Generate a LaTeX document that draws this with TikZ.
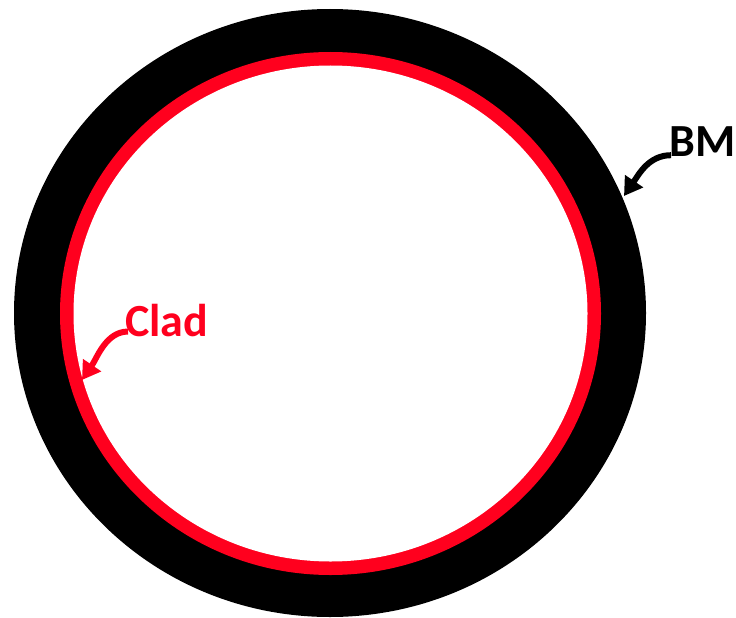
\documentclass[tikz,border=0pt]{standalone}
\usepackage{fontspec}
\setmainfont{Carlito}
\usetikzlibrary{arrows.meta}
\definecolor{cladred}{RGB}{255,0,30}
\tikzset{
  lbl/.style={font=\fontsize{46}{46}\selectfont\bfseries, inner sep=0pt},
  pointer/.style={line width=6pt, -{Triangle[length=18pt,width=21pt]}},
}
\begin{document}
\begin{tikzpicture}[x=1pt,y=-1pt]
\useasboundingbox (0,0) rectangle (736,618);
\fill[black] (330,313) ellipse [x radius=316, y radius=304];
\fill[cladred] (330.5,313.5) ellipse [x radius=270.5, y radius=261.5];
\fill[white] (330.5,313.5) ellipse [x radius=257, y radius=248];
\node[lbl, anchor=base west] (bm) at (669,156) {BM};
\node[lbl, anchor=base west, text=cladred] (clad) at (125,336) {Clad};
\coordinate (bmtip) at (624,196);
\coordinate (cladtip) at (82,380);
\draw[pointer] ([xshift=2pt,yshift=1pt]bm.south west) .. controls +(-22,0) and +(15,-22) .. (bmtip);
\draw[pointer, cladred] ([xshift=3pt,yshift=5pt]clad.south west) .. controls +(-22,0) and +(15,-22) .. (cladtip);
\end{tikzpicture}
\end{document}
